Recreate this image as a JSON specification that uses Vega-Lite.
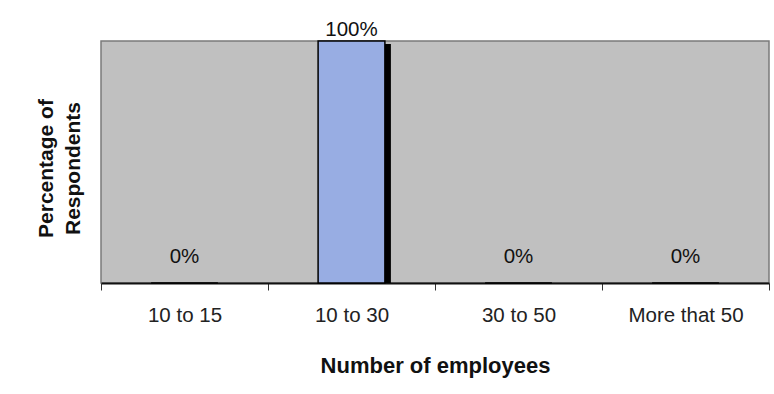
{
  "$schema": "https://vega.github.io/schema/vega-lite/v6.json",
  "autosize": "none",
  "width": 668,
  "height": 242,
  "padding": {"left": 101, "top": 41, "right": 5, "bottom": 111},
  "background": "#ffffff",
  "config": {
    "font": "Liberation Sans",
    "view": {"fill": "#c0c0c0", "stroke": "#7a7a7a", "strokeWidth": 1.5}
  },
  "data": {
    "values": [
      {"size": "10 to 15", "pct": 0, "label": "0%"},
      {"size": "10 to 30", "pct": 100, "label": "100%"},
      {"size": "30 to 50", "pct": 0, "label": "0%"},
      {"size": "More that 50", "pct": 0, "label": "0%"}
    ]
  },
  "encoding": {
    "x": {
      "field": "size",
      "type": "nominal",
      "sort": null,
      "scale": {"paddingInner": 0, "paddingOuter": 0},
      "axis": {
        "title": "Number of employees",
        "titleFont": "Liberation Sans",
        "titleFontSize": 22,
        "titleFontWeight": "bold",
        "titleColor": "#111111",
        "titleBaseline": "alphabetic",
        "titleY": 89,
        "labelAngle": 0,
        "labelFontSize": 20.5,
        "labelColor": "#222222",
        "labelBaseline": "alphabetic",
        "labelPadding": 31,
        "tickBand": "extent",
        "tickSize": 7,
        "tickColor": "#333333",
        "tickWidth": 1,
        "domainColor": "#111111",
        "domainWidth": 2
      }
    },
    "y": {
      "field": "pct",
      "type": "quantitative",
      "scale": {"domain": [0, 100], "nice": false},
      "axis": {
        "title": ["Percentage of", "Respondents"],
        "titleFont": "Liberation Sans",
        "titleFontSize": 21,
        "titleFontWeight": "bold",
        "titleColor": "#111111",
        "titleAngle": -90,
        "titleBaseline": "alphabetic",
        "titleLineHeight": 27,
        "titleX": -49,
        "titleY": 127,
        "labels": false,
        "ticks": false,
        "domain": false,
        "grid": false
      }
    }
  },
  "layer": [
    {
      "mark": {"type": "bar", "width": {"band": 0.4}, "color": "#000000", "xOffset": 6, "yOffset": 3, "clip": true}
    },
    {
      "mark": {"type": "bar", "width": {"band": 0.4}, "fill": "#98ade3", "stroke": "#000000", "strokeWidth": 1.5}
    },
    {
      "transform": [{"filter": "datum.pct > 0"}],
      "mark": {"type": "text", "baseline": "alphabetic", "dy": -5, "fontSize": 20.5, "color": "#111111"},
      "encoding": {"text": {"field": "label"}}
    },
    {
      "transform": [{"filter": "datum.pct == 0"}],
      "mark": {"type": "text", "baseline": "alphabetic", "dy": -20, "fontSize": 20.5, "color": "#111111"},
      "encoding": {"text": {"field": "label"}}
    }
  ]
}
